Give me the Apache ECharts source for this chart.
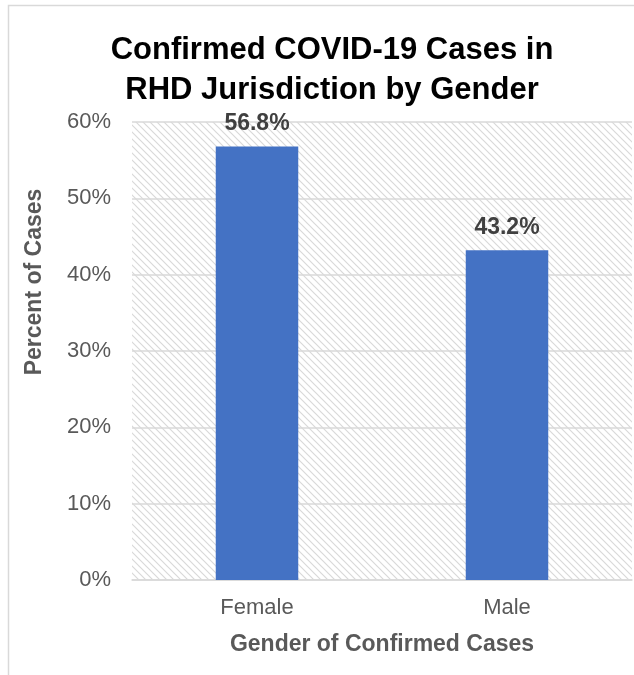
<!DOCTYPE html>
<html>
<head>
<meta charset="utf-8">
<script src="https://cdn.jsdelivr.net/npm/echarts@6/dist/echarts.min.js"></script>
<style>html,body{margin:0;padding:0;background:#fff;}#c{width:634px;height:675px;}</style>
</head>
<body>
<div id="c"></div>
<script>
const categories = ['Female', 'Male'];
const percentValues = [56.8, 43.2];
const yTicks = [0, 10, 20, 30, 40, 50, 60];

const P = 7;
const pc = document.createElement('canvas');
pc.width = P; pc.height = P;
const g = pc.getContext('2d');
g.fillStyle = '#ffffff'; g.fillRect(0, 0, P, P);
g.strokeStyle = '#d9d9d9'; g.lineWidth = 1.2;
g.beginPath(); g.moveTo(-1, -1); g.lineTo(P + 1, P + 1); g.stroke();
g.beginPath(); g.moveTo(-1, P - 1); g.lineTo(1, P + 1); g.stroke();
g.beginPath(); g.moveTo(P - 1, -1); g.lineTo(P + 1, 1); g.stroke();

const FF = 'Liberation Sans, Arial';
const chart = echarts.init(document.getElementById('c'), null, {renderer: 'canvas'});
chart.setOption({
  animation: false,
  backgroundColor: '#ffffff',
  title: {
    text: 'Confirmed COVID-19 Cases in\nRHD Jurisdiction by Gender',
    left: 327, top: 25, textAlign: 'center',
    textStyle: {fontFamily: FF, fontSize: 31, fontWeight: 'bold', color: '#000000', lineHeight: 40}
  },
  graphic: [
    {type: 'rect', shape: {x: 8.5, y: 5.5, width: 700, height: 700}, style: {fill: 'none', stroke: '#d9d9d9', lineWidth: 1.5}, z: -10},
    {type: 'text', x: 35, y: 282, rotation: Math.PI / 2,
     style: {text: 'Percent of Cases', fontFamily: FF, fontSize: 23, fontWeight: 'bold', fill: '#595959', align: 'center', verticalAlign: 'middle'}}
  ],
  grid: {left: 132, right: 2, top: 122, bottom: 95, show: true, borderWidth: 0,
         backgroundColor: {image: pc, repeat: 'repeat'}},
  xAxis: {
    type: 'category', data: categories,
    axisLine: {lineStyle: {color: '#d9d9d9', width: 1.5}},
    axisTick: {show: false},
    axisLabel: {color: '#595959', fontFamily: FF, fontSize: 22, margin: 17},
    name: 'Gender of Confirmed Cases', nameLocation: 'middle', nameGap: 53,
    nameTextStyle: {color: '#595959', fontFamily: FF, fontSize: 23, fontWeight: 'bold'}
  },
  yAxis: {
    type: 'value', min: 0, max: 60, interval: 10,
    axisLine: {show: false}, axisTick: {show: false},
    axisLabel: {color: '#595959', fontFamily: FF, fontSize: 22, margin: 21,
      formatter: v => yTicks.includes(v) ? v + '%' : ''},
    splitLine: {lineStyle: {color: '#d9d9d9', width: 1.5}}
  },
  series: [{
    type: 'bar', data: percentValues, barWidth: '33%',
    itemStyle: {color: '#4472C4'},
    label: {show: true, position: 'top', distance: 11, formatter: p => p.value.toFixed(1) + '%',
      color: '#404040', fontFamily: FF, fontSize: 23, fontWeight: 'bold'}
  }]
});
</script>
</body>
</html>
